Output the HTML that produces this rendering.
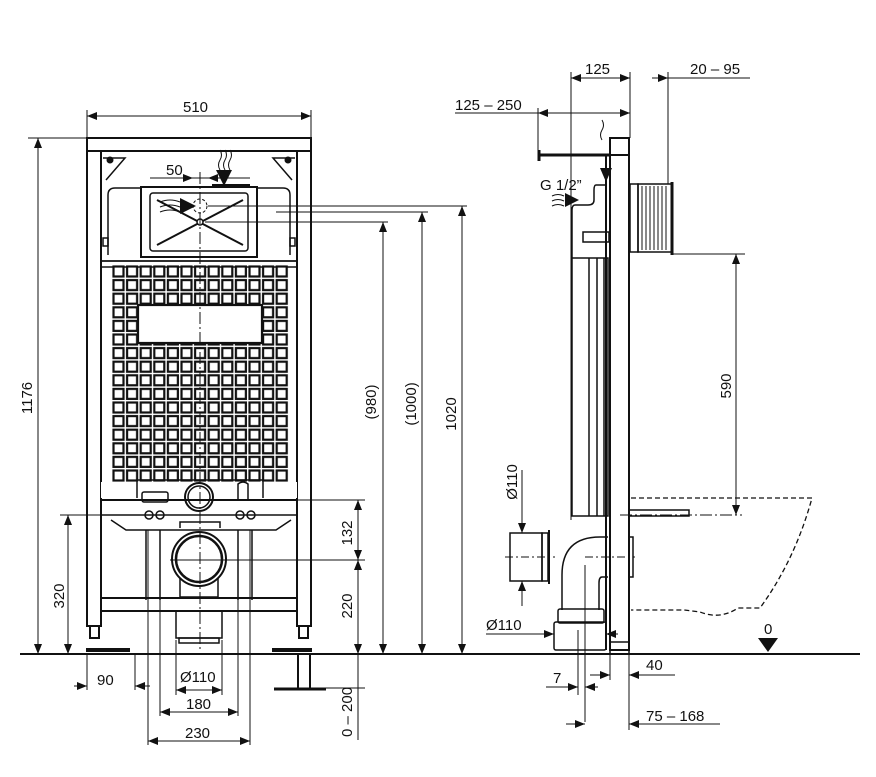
<!DOCTYPE html>
<html><head><meta charset="utf-8"><style>
html,body{margin:0;padding:0;background:#fff}
svg{display:block}
text{font-family:"Liberation Sans",sans-serif;font-size:15px;fill:#111}
</style></head><body>
<svg width="876" height="777" viewBox="0 0 876 777" xmlns="http://www.w3.org/2000/svg">
<defs>
<pattern id="g" x="112" y="265" width="13.6" height="13.6" patternUnits="userSpaceOnUse">
<rect x="1.5" y="1.5" width="10" height="10" fill="#fff" stroke="#111" stroke-width="2.2"/>
</pattern>
<marker id="a" markerWidth="10" markerHeight="8" refX="10" refY="4" orient="auto-start-reverse" markerUnits="userSpaceOnUse"><path d="M0,0 L10,4 L0,8 z" fill="#111"/></marker>
</defs>
<g stroke="#111" fill="none">
<!-- floor -->
<line x1="20" y1="654" x2="860" y2="654" stroke-width="2"/>
<!-- left frame -->
<rect x="87" y="138" width="224" height="13" stroke-width="2"/>
<rect x="87" y="151" width="14" height="475" stroke-width="2"/>
<rect x="297" y="151" width="14" height="475" stroke-width="2"/>
<rect x="90" y="626" width="9" height="12" stroke-width="2"/>
<rect x="299" y="626" width="9" height="12" stroke-width="2"/>
<line x1="86" y1="650" x2="130" y2="650" stroke-width="4"/>
<line x1="272" y1="650" x2="312" y2="650" stroke-width="4"/>
<line x1="298" y1="654" x2="298" y2="688" stroke-width="2"/>
<line x1="310" y1="654" x2="310" y2="688" stroke-width="2"/>
<line x1="274" y1="689" x2="326" y2="689" stroke-width="3"/>
<rect x="101" y="151" width="196" height="110" stroke-width="1.5"/>
<path d="M103,158 L125,158 L106,180" stroke-width="1.5"/>
<path d="M295,158 L273,158 L292,180" stroke-width="1.5"/>
<circle cx="110" cy="160" r="3" fill="#111"/><circle cx="288" cy="160" r="3" fill="#111"/>
<rect x="103" y="238" width="5" height="8" stroke-width="1.5"/><rect x="290" y="238" width="5" height="8" stroke-width="1.5"/>
<path d="M108,255 L108,195 Q108,188 115,188 L283,188 Q290,188 290,195 L290,255" stroke-width="1.5"/>
<rect x="101" y="261" width="196" height="6" stroke-width="1.5"/>
<!-- cistern -->
<rect x="141" y="187" width="116" height="70" stroke-width="2" fill="#fff"/>
<rect x="150" y="193" width="98" height="58" rx="3" stroke-width="1.5"/>
<line x1="157" y1="200" x2="243" y2="245" stroke-width="2"/>
<line x1="243" y1="200" x2="157" y2="245" stroke-width="2"/>
<circle cx="200" cy="222" r="3" fill="#fff" stroke-width="1.5"/>
<circle cx="200" cy="206" r="7" stroke-width="1" stroke-dasharray="3,2"/>
<line x1="212" y1="185" x2="250" y2="185" stroke-width="2"/>
<!-- grid -->
<rect x="112" y="265" width="177" height="217" fill="url(#g)" stroke="none"/>
<rect x="138" y="305" width="124" height="38" fill="#fff" stroke-width="2.2"/>
<!-- lower section -->
<rect x="101" y="482" width="196" height="16" fill="#fff" stroke="none"/>
<path d="M137,498 L137,480 L263,480 L263,498" stroke-width="1.5"/>
<rect x="142" y="492" width="26" height="10" rx="2" stroke-width="1.5"/>
<path d="M238,500 L238,484 Q243,480 248,484 L248,500" stroke-width="1.5"/>
<line x1="101" y1="500" x2="297" y2="500" stroke-width="2"/>
<circle cx="199" cy="497" r="14" stroke-width="2"/><circle cx="199" cy="497" r="11" stroke-width="1.5"/>
<path d="M101,515 L297,515 M111,520 L126,530 L276,530 L291,520" stroke-width="1.5"/>
<line x1="146" y1="530" x2="146" y2="600" stroke-width="1.5"/><line x1="160" y1="530" x2="160" y2="600" stroke-width="1.5"/>
<line x1="238" y1="530" x2="238" y2="600" stroke-width="1.5"/><line x1="252" y1="530" x2="252" y2="600" stroke-width="1.5"/>
<circle cx="149" cy="515" r="4" stroke-width="1.5"/><circle cx="160" cy="515" r="4" stroke-width="1.5"/>
<circle cx="240" cy="515" r="4" stroke-width="1.5"/><circle cx="251" cy="515" r="4" stroke-width="1.5"/>
<path d="M180,528 L180,522 L220,522 L220,528" stroke-width="1.5"/>
<circle cx="199" cy="559" r="27" stroke-width="2"/><circle cx="199" cy="559" r="23" stroke-width="2.5"/>
<path d="M180,578 L180,597 L218,597 L218,578" stroke-width="1.5"/>
<line x1="101" y1="598" x2="297" y2="598" stroke-width="2"/><line x1="101" y1="611" x2="297" y2="611" stroke-width="2"/>
<path d="M176,612 L176,638 L222,638 L222,612" stroke-width="1.5"/>
<rect x="179" y="638" width="40" height="5" stroke-width="1.5"/>
<!-- dim lines left -->
<g stroke-width="1">
<line x1="87" y1="110" x2="87" y2="138"/><line x1="311" y1="110" x2="311" y2="138"/>
<line x1="87" y1="116" x2="311" y2="116" marker-start="url(#a)" marker-end="url(#a)"/>
<line x1="28" y1="138" x2="87" y2="138"/>
<line x1="38" y1="138" x2="38" y2="654" marker-start="url(#a)" marker-end="url(#a)"/>
<line x1="60" y1="515" x2="130" y2="515"/>
<line x1="68" y1="515" x2="68" y2="654" marker-start="url(#a)" marker-end="url(#a)"/>
<line x1="150" y1="178" x2="250" y2="178"/>
<line x1="165" y1="178" x2="193" y2="178" marker-end="url(#a)"/>
<line x1="235" y1="178" x2="208" y2="178" marker-end="url(#a)"/>
<line x1="200" y1="172" x2="200" y2="650" stroke-dasharray="12,3,2,3"/>
<line x1="208" y1="206" x2="467" y2="206"/>
<line x1="276" y1="212" x2="428" y2="212"/>
<line x1="205" y1="222" x2="388" y2="222"/>
<line x1="383" y1="222" x2="383" y2="654" marker-start="url(#a)" marker-end="url(#a)"/>
<line x1="422" y1="212" x2="422" y2="654" marker-start="url(#a)" marker-end="url(#a)"/>
<line x1="462" y1="206" x2="462" y2="654" marker-start="url(#a)" marker-end="url(#a)"/>
<line x1="184" y1="500" x2="365" y2="500"/>
<line x1="170" y1="560" x2="365" y2="560"/>
<line x1="358" y1="500" x2="358" y2="560" marker-start="url(#a)" marker-end="url(#a)"/>
<line x1="358" y1="560" x2="358" y2="654" marker-start="url(#a)" marker-end="url(#a)"/>
<line x1="358" y1="654" x2="358" y2="740"/>
<line x1="320" y1="688" x2="365" y2="688"/>
<line x1="87" y1="654" x2="87" y2="690"/><line x1="135" y1="654" x2="135" y2="690"/>
<line x1="74" y1="686" x2="87" y2="686" marker-end="url(#a)"/><line x1="150" y1="686" x2="135" y2="686" marker-end="url(#a)"/>
<line x1="176" y1="640" x2="176" y2="695"/><line x1="222" y1="640" x2="222" y2="695"/>
<line x1="176" y1="690" x2="222" y2="690" marker-start="url(#a)" marker-end="url(#a)"/>
<line x1="160" y1="600" x2="160" y2="716"/><line x1="238" y1="600" x2="238" y2="716"/>
<line x1="160" y1="712" x2="238" y2="712" marker-start="url(#a)" marker-end="url(#a)"/>
<line x1="148" y1="530" x2="148" y2="745"/><line x1="250" y1="530" x2="250" y2="745"/>
<line x1="148" y1="741" x2="250" y2="741" marker-start="url(#a)" marker-end="url(#a)"/>
</g>
<!-- water arrows -->
<path d="M220,150 q3,5 0,10 q-3,5 0,10 M225,150 q3,5 0,10 q-3,5 0,10 M230,150 q3,5 0,10 q-3,5 0,10" stroke-width="1"/>
<path d="M160,202 q10,-4 20,0 M160,207 q10,-4 20,0 M160,212 q10,-4 20,0" stroke-width="1"/>

<!-- RIGHT VIEW -->
<rect x="610" y="138" width="19" height="512" stroke-width="2"/>
<line x1="610" y1="155" x2="629" y2="155" stroke-width="2"/>
<rect x="610" y="642" width="19" height="12" stroke-width="1.5"/>
<line x1="538" y1="155" x2="610" y2="155" stroke-width="3"/>
<line x1="539" y1="150" x2="539" y2="161" stroke-width="3"/>
<path d="M606,185 L596,185 Q594,185 594,190 L594,200 Q594,205 588,205 L575,205 Q572,205 572,210 L572,258" stroke-width="1.5"/>
<rect x="583" y="232" width="26" height="10" stroke-width="1.5"/>
<rect x="572" y="258" width="36" height="258" stroke-width="1.5"/>
<line x1="589" y1="258" x2="589" y2="516" stroke-width="1.5"/><line x1="597" y1="258" x2="597" y2="516" stroke-width="1.5"/><line x1="604" y1="258" x2="604" y2="516" stroke-width="1.5"/>
<line x1="606" y1="155" x2="606" y2="650" stroke-width="2"/>
<rect x="630" y="184" width="8" height="68" stroke-width="1.5"/>
<rect x="638" y="184" width="34" height="68" stroke-width="1.5"/>
<path d="M642,186 V250 M646,186 V250 M650,186 V250 M654,186 V250 M658,186 V250 M662,186 V250 M666,186 V250" stroke-width="1"/>
<line x1="672" y1="182" x2="672" y2="255" stroke-width="3"/>
<!-- pipes -->
<rect x="510" y="533" width="32" height="48" stroke-width="1.5"/>
<rect x="542" y="533" width="6" height="48" stroke-width="1.5"/>
<line x1="549" y1="530" x2="549" y2="584" stroke-width="2"/>
<path d="M608,537 L600,537 Q562,537 562,575 L562,610 M608,577 L602,577 Q599,577 599,583 L599,610" stroke-width="1.5"/>
<rect x="558" y="609" width="46" height="14" rx="2" stroke-width="1.5"/>
<rect x="554" y="622" width="52" height="28" rx="2" stroke-width="1.5"/>
<rect x="629" y="510" width="60" height="6" stroke-width="1.5"/>
<rect x="629" y="537" width="4" height="40" stroke-width="1.5"/>
<!-- bowl dashed -->
<path d="M631,498 L812,498 Q795,560 760,608 L738,608 Q720,620 700,612 L684,610 L631,610" stroke-width="1.3" stroke-dasharray="5,3"/>
<!-- right dims -->
<g stroke-width="1">
<line x1="571" y1="72" x2="571" y2="520"/><line x1="630" y1="72" x2="630" y2="138"/>
<line x1="571" y1="78" x2="630" y2="78" marker-start="url(#a)" marker-end="url(#a)"/>
<line x1="668" y1="72" x2="668" y2="184"/>
<line x1="668" y1="78" x2="750" y2="78"/><line x1="652" y1="78" x2="668" y2="78" marker-end="url(#a)"/>
<line x1="610" y1="78" x2="630" y2="78"/>
<line x1="538" y1="108" x2="538" y2="150"/>
<line x1="455" y1="113" x2="538" y2="113"/>
<line x1="538" y1="113" x2="630" y2="113" marker-start="url(#a)" marker-end="url(#a)"/>
<line x1="672" y1="254" x2="745" y2="254"/>
<line x1="736" y1="254" x2="736" y2="515" marker-start="url(#a)" marker-end="url(#a)"/>
<line x1="620" y1="515" x2="742" y2="515" stroke-dasharray="12,3,2,3"/>
<line x1="505" y1="557" x2="555" y2="557" stroke-dasharray="8,3,2,3"/>
<line x1="585" y1="557" x2="635" y2="557" stroke-dasharray="8,3,2,3"/>
<line x1="522" y1="470" x2="522" y2="533" marker-end="url(#a)"/>
<line x1="522" y1="606" x2="522" y2="581" marker-end="url(#a)"/>
<line x1="585" y1="565" x2="585" y2="722"/>
<line x1="578" y1="630" x2="578" y2="695"/>
<line x1="486" y1="634" x2="554" y2="634" marker-end="url(#a)"/>
<line x1="618" y1="634" x2="606" y2="634" marker-end="url(#a)"/>
<line x1="546" y1="687" x2="578" y2="687" marker-end="url(#a)"/><line x1="598" y1="687" x2="585" y2="687" marker-end="url(#a)"/>
<line x1="610" y1="654" x2="610" y2="680"/><line x1="629" y1="654" x2="629" y2="730"/>
<line x1="590" y1="675" x2="610" y2="675" marker-end="url(#a)"/><line x1="675" y1="675" x2="629" y2="675" marker-end="url(#a)"/>
<line x1="566" y1="724" x2="585" y2="724" marker-end="url(#a)"/><line x1="720" y1="724" x2="629" y2="724" marker-end="url(#a)"/>
</g>
<path d="M552,196 q6,-3 12,0 M552,201 q6,-3 12,0 M552,206 q6,-3 12,0" stroke-width="1"/>
<path d="M602,120 q3,5 0,10 q-3,5 0,10" stroke-width="1"/>
</g>
<!-- filled arrows -->
<g fill="#111">
<path d="M216,170 L232,170 L224,186 z"/>
<path d="M180,198 L196,206 L180,214 z"/>
<path d="M565,193 L579,200 L565,207 z"/>
<path d="M600,168 L612,168 L606,182 z"/>
<path d="M758,638 L778,638 L768,652 z"/>
</g>
<!-- labels -->
<text x="183" y="112">510</text>
<text x="166" y="175">50</text>
<text transform="translate(32,398) rotate(-90)" text-anchor="middle">1176</text>
<text transform="translate(64,596) rotate(-90)" text-anchor="middle">320</text>
<text transform="translate(376,402) rotate(-90)" text-anchor="middle">(980)</text>
<text transform="translate(416,404) rotate(-90)" text-anchor="middle">(1000)</text>
<text transform="translate(456,414) rotate(-90)" text-anchor="middle">1020</text>
<text transform="translate(352,533) rotate(-90)" text-anchor="middle">132</text>
<text transform="translate(352,606) rotate(-90)" text-anchor="middle">220</text>
<text transform="translate(352,712) rotate(-90)" text-anchor="middle">0 – 200</text>
<text x="97" y="685">90</text>
<text x="180" y="682">Ø110</text>
<text x="186" y="709">180</text>
<text x="185" y="738">230</text>
<text x="585" y="74">125</text>
<text x="690" y="74">20 – 95</text>
<text x="455" y="110">125 – 250</text>
<text x="540" y="190">G 1/2”</text>
<text transform="translate(731,386) rotate(-90)" text-anchor="middle">590</text>
<text transform="translate(517,482) rotate(-90)" text-anchor="middle">Ø110</text>
<text x="486" y="630">Ø110</text>
<text x="764" y="634">0</text>
<text x="553" y="683">7</text>
<text x="646" y="670">40</text>
<text x="646" y="721">75 – 168</text>
</svg>
</body></html>
